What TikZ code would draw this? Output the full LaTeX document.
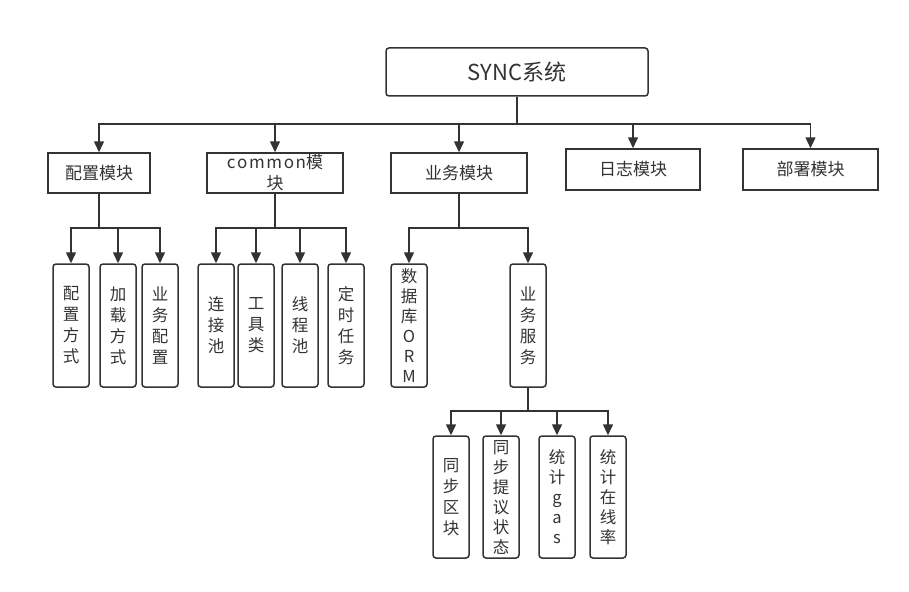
\documentclass[tikz,border=0pt]{standalone}
\usepackage{fontspec}
\setmainfont{Noto Sans CJK SC}
\usetikzlibrary{arrows.meta}
\definecolor{ln}{HTML}{333333}
\newcommand{\ks}{\kern1.6pt}
\tikzset{
  box/.style={draw=ln, line width=1.5pt, inner sep=0pt, text=ln, align=center},
  topbox/.style={box, rounded corners=3pt, minimum width=262pt, minimum height=48pt, font=\fontsize{22}{26}\selectfont},
  modbox/.style={box, minimum height=40pt, font=\fontsize{17}{22}\selectfont},
  vbox/.style={box, rounded corners=3pt, minimum width=36pt, minimum height=123pt, font=\fontsize{16.5}{21}\selectfont},
  vboxs/.style={vbox, font=\fontsize{16.5}{20}\selectfont},
  arr/.style={draw=ln, line width=1.5pt, -{Triangle[length=11pt,width=10pt]}}
}
\begin{document}
\begin{tikzpicture}[x=1pt,y=-1pt]
\useasboundingbox (0,0) rectangle (909,591);
% top
\node[topbox] (top) at (517,72) {SYNC系统};
% level 2
\node[modbox, minimum width=102pt] (conf) at (99,173) {配置模块};
\node[modbox, minimum width=136pt, text width=120pt] (comm) at (275,173) {c\ks o\ks m\ks m\ks o\ks n模\\[-1pt]块};
\node[modbox, minimum width=136pt] (biz) at (459,173) {业务模块};
\node[modbox, minimum width=134pt, minimum height=41pt] (log) at (633,169.5) {日志模块};
\node[modbox, minimum width=135pt, minimum height=41pt] (dep) at (810.5,169.5) {部署模块};
% level 3
\node[vbox] (c1) at (71,325.5) {配\\置\\方\\式};
\node[vbox] (c2) at (118,325.5) {加\\载\\方\\式};
\node[vbox] (c3) at (160,325.5) {业\\务\\配\\置};
\node[vbox] (m1) at (216,325.5) {连\\接\\池};
\node[vbox] (m2) at (256,325.5) {工\\具\\类};
\node[vbox] (m3) at (300,325.5) {线\\程\\池};
\node[vbox] (m4) at (346,325.5) {定\\时\\任\\务};
\node[vboxs] (b1) at (409,325.5) {数\\据\\库\\O\\R\\M};
\node[vbox] (b2) at (528,325.5) {业\\务\\服\\务};
% level 4
\node[vbox, minimum height=122pt] (s1) at (451,497) {同\\步\\区\\块};
\node[vboxs, minimum height=122pt] (s2) at (501,497) {同\\步\\提\\议\\状\\态};
\node[vboxs, minimum height=122pt] (s3) at (557,497) {统\\计\\g\\a\\s};
\node[vboxs, minimum height=122pt] (s4) at (608,497) {统\\计\\在\\线\\率};
% connectors level 1 -> 2
\foreach \n in {conf,comm,biz,log,dep}
  \draw[arr] (top.south) -- (top.south |- 0,124) -| (\n.north);
% level 2 -> 3
\foreach \n in {c1,c2,c3}
  \draw[arr] (conf.south) -- (conf.south |- 0,228) -| (\n.north);
\foreach \n in {m1,m2,m3,m4}
  \draw[arr] (comm.south) -- (comm.south |- 0,228) -| (\n.north);
\foreach \n in {b1,b2}
  \draw[arr] (biz.south) -- (biz.south |- 0,228) -| (\n.north);
% level 3 -> 4
\foreach \n in {s1,s2,s3,s4}
  \draw[arr] (b2.south) -- (b2.south |- 0,411) -| (\n.north);
\end{tikzpicture}
\end{document}
